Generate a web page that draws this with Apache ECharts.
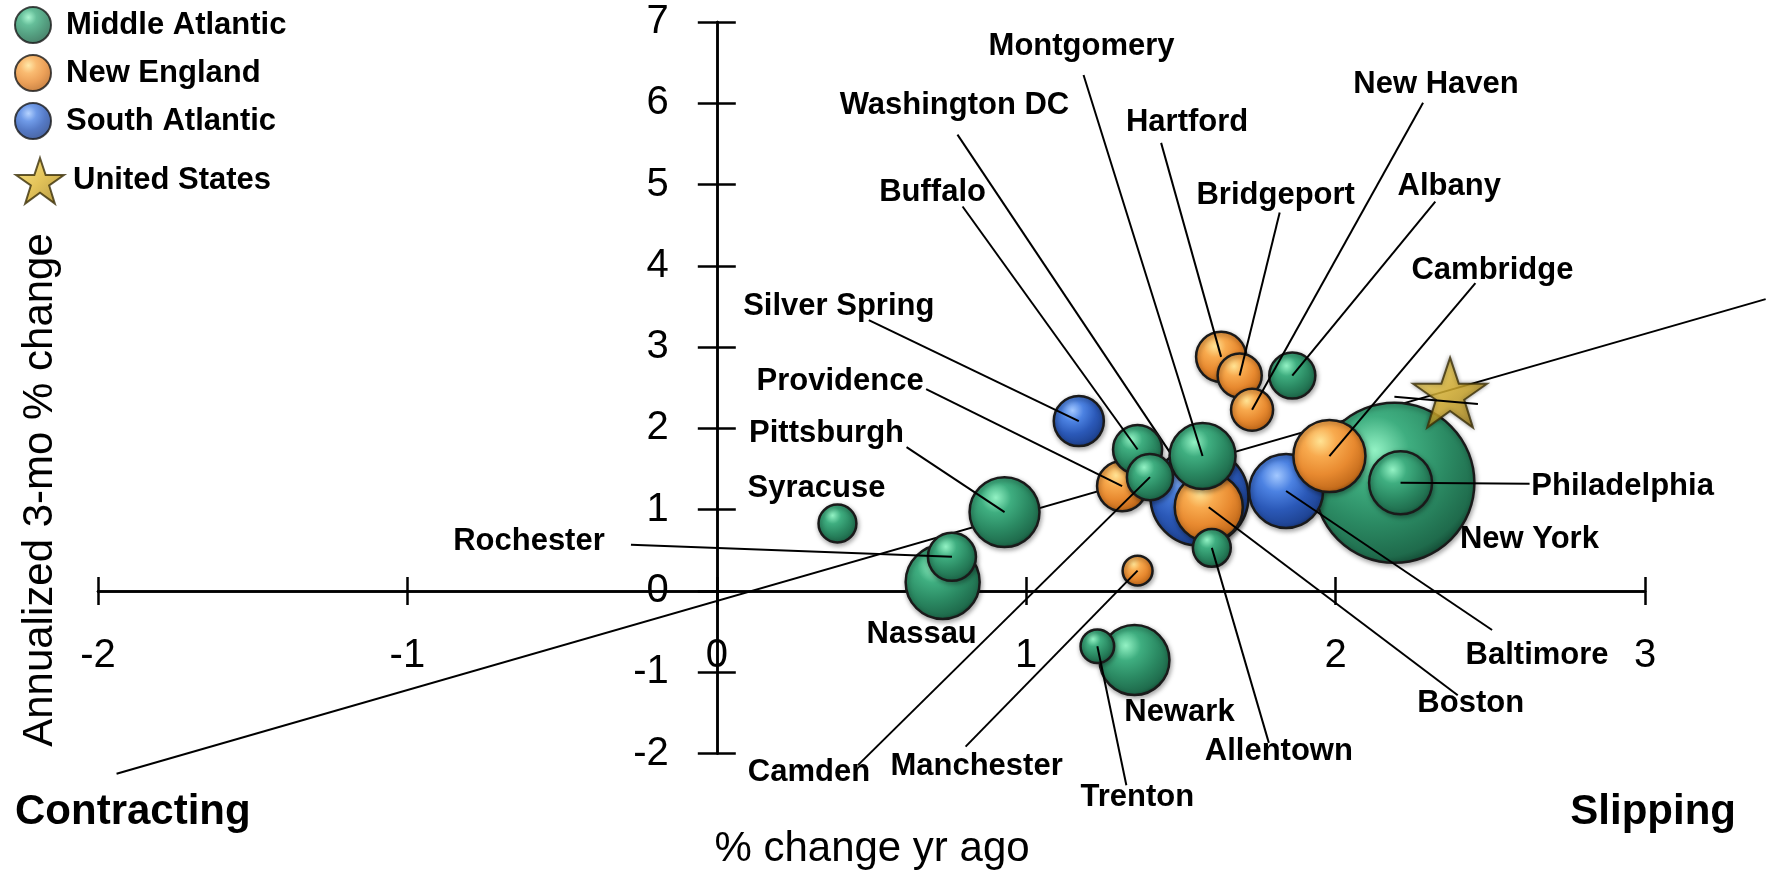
<!DOCTYPE html>
<html>
<head>
<meta charset="utf-8">
<title>Metro employment bubble chart</title>
<script src="https://cdn.jsdelivr.net/npm/echarts@6/dist/echarts.min.js"></script>
<style>
  html, body { margin: 0; padding: 0; background: #fff; }
  #main { width: 1768px; height: 873px; }
</style>
</head>
<body>
<div id="main"></div>
<script>
// values
var cities = ['New York', 'Washington DC', 'Nassau', 'Baltimore', 'Cambridge', 'Pittsburgh', 'Newark',
  'Boston', 'Montgomery', 'Philadelphia', 'Silver Spring', 'Hartford', 'Providence', 'Buffalo',
  'Rochester', 'Camden', 'Albany', 'Bridgeport', 'New Haven', 'Allentown', 'Syracuse', 'Trenton', 'Manchester'];
var regions = ['Middle Atlantic', 'South Atlantic', 'Middle Atlantic', 'South Atlantic', 'New England',
  'Middle Atlantic', 'Middle Atlantic', 'New England', 'Middle Atlantic', 'Middle Atlantic', 'South Atlantic',
  'New England', 'New England', 'Middle Atlantic', 'Middle Atlantic', 'Middle Atlantic', 'Middle Atlantic',
  'New England', 'New England', 'Middle Atlantic', 'Middle Atlantic', 'Middle Atlantic', 'New England'];
var yrAgo = [2.19, 1.56, 0.73, 1.84, 1.98, 0.93, 1.35, 1.59, 1.57, 2.21, 1.17, 1.63, 1.31, 1.36,
  0.76, 1.40, 1.86, 1.69, 1.73, 1.60, 0.39, 1.23, 1.36];
var annualized = [1.33, 1.16, 0.11, 1.23, 1.66, 0.97, -0.85, 1.03, 1.66, 1.33, 2.09, 2.88, 1.29, 1.74,
  0.42, 1.40, 2.65, 2.65, 2.23, 0.53, 0.83, -0.68, 0.25];
var sizes = [100, 37.5, 21.4, 21.4, 20.3, 19.1, 19.1, 18.1, 17.0, 15.5, 9.8, 9.8, 9.8, 9.4,
  9.0, 8.3, 8.3, 7.6, 6.9, 5.6, 5.6, 4.4, 3.5];
var usPoint = [2.37, 2.44];
var usLine = [[-1.94, -2.25, 3.39, 3.59]];
var usTick = [[2.19, 2.39, 2.46, 2.30]];
var xRange = [-2, 3];
var yRange = [-2, 7];
var legendNames = ['Middle Atlantic', 'New England', 'South Atlantic', 'United States'];

// label placement, pixel offsets from the bubble centre
var labelAt = {
  'New York': [135, 57], 'Washington DC': [-245, -391], 'Nassau': [-21, 52], 'Baltimore': [251, 164],
  'Cambridge': [163, -186], 'Pittsburgh': [-178, -79], 'Newark': [45, 52], 'Boston': [262, 196],
  'Montgomery': [-121, -410], 'Philadelphia': [222, 4], 'Silver Spring': [-240, -115],
  'Hartford': [-34, -234], 'Providence': [-282, -105], 'Buffalo': [-205, -257], 'Rochester': [-423, -15],
  'Camden': [-341, 295], 'Albany': [157, -189], 'Bridgeport': [36, -180], 'New Haven': [184, -325],
  'Allentown': [67, 204], 'Syracuse': [-21, -35], 'Trenton': [40, 151], 'Manchester': [-161, 196]
};
var leaderTo = {
  'Washington DC': [-242, -362], 'Baltimore': [206, 139], 'Cambridge': [146, -173], 'Pittsburgh': [-98, -65],
  'Boston': [249, 188], 'Montgomery': [-119, -381], 'Philadelphia': [129, 1], 'Silver Spring': [-210, -101],
  'Hartford': [-60, -214], 'Providence': [-196, -97], 'Buffalo': [-175, -243], 'Rochester': [-321, -12],
  'Camden': [-292, 288], 'Albany': [143, -174], 'Bridgeport': [40, -163], 'New Haven': [171, -307],
  'Allentown': [57, 195], 'Trenton': [29, 139], 'Manchester': [-172, 176]
};

var FONT = '"Liberation Sans", Arial, sans-serif';
var W = 1768, H = 873;
var grid = {left: 98, right: 123, top: 22, bottom: 119.5};
var gridW = W - grid.left - grid.right, gridH = H - grid.top - grid.bottom;
// pixel position of the zero lines, the axes cross there
var zeroX = grid.left + (0 - xRange[0]) / (xRange[1] - xRange[0]) * gridW;
var zeroY = grid.top + (yRange[1] - 0) / (yRange[1] - yRange[0]) * gridH;

var palette = {
  'Middle Atlantic': ['#93f2c4', '#3fae80', '#2b8a63', '#1f6b4c', '#12432f'],
  'New England': ['#ffe394', '#f8aa4e', '#e88a30', '#c56c1c', '#83460c'],
  'South Atlantic': ['#a3c8ff', '#4c82e2', '#2b59b8', '#1f4494', '#132c63']
};
function sphere(c) {
  return new echarts.graphic.RadialGradient(0.38, 0.3, 0.75, [
    {offset: 0, color: c[0]}, {offset: 0.28, color: c[1]}, {offset: 0.6, color: c[2]},
    {offset: 0.88, color: c[3]}, {offset: 1, color: c[4]}
  ]);
}
function bubbleRadius(v) { return 8 * Math.sqrt(v); }

var starPath = 'path://M50,0 L61.8,35.4 L100,35.4 L69.1,57.3 L80.9,95.1 L50,72.4 L19.1,95.1 L30.9,57.3 L0,35.4 L38.2,35.4 Z';
var gold = new echarts.graphic.LinearGradient(0, 0, 1, 1, [
  {offset: 0, color: '#f8e070'}, {offset: 0.5, color: '#dcb430'}, {offset: 1, color: '#9c7a14'}
]);

// big bubbles first, small ones on top
var order = cities.map(function (c, i) { return i; });
order.sort(function (a, b) { return sizes[b] - sizes[a]; });
var bubbleData = order.map(function (i) { return [yrAgo[i], annualized[i], sizes[i], i]; });

function renderCity(params, api) {
  var i = api.value(3);
  var k = params.dataIndex;
  var name = cities[i];
  var c = api.coord([api.value(0), api.value(1)]);
  var r = bubbleRadius(api.value(2));
  var kids = [{
    type: 'circle', z2: 2 * k,
    shape: {cx: c[0], cy: c[1], r: r},
    style: {fill: sphere(palette[regions[i]]), stroke: '#1a1a1a', lineWidth: 2.5,
      shadowBlur: 5, shadowColor: 'rgba(0,0,0,0.35)', shadowOffsetX: 1, shadowOffsetY: 2}
  }];
  var ln = leaderTo[name];
  if (ln) {
    kids.push({type: 'line', z2: 2 * k + 1,
      shape: {x1: c[0], y1: c[1], x2: c[0] + ln[0], y2: c[1] + ln[1]},
      style: {stroke: '#000', lineWidth: 2}});
  }
  var lb = labelAt[name];
  kids.push({type: 'text', z2: 1000, x: c[0] + lb[0], y: c[1] + lb[1],
    style: {text: name, font: 'bold 31px ' + FONT, fill: '#000', align: 'center', verticalAlign: 'middle'}});
  return {type: 'group', children: kids};
}

function renderSegment(params, api) {
  var a = api.coord([api.value(0), api.value(1)]);
  var b = api.coord([api.value(2), api.value(3)]);
  return {type: 'line', shape: {x1: a[0], y1: a[1], x2: b[0], y2: b[1]},
    style: {stroke: '#000', lineWidth: 2}};
}

function regionSeries(name) {
  return {type: 'scatter', name: name, data: [], symbol: 'circle',
    itemStyle: {color: sphere(palette[name]), borderColor: '#1a1a1a', borderWidth: 2}};
}

var axisLineStyle = {color: '#000', width: 2.5};
function xAxisPart(pos, offset, labels) {
  return {
    type: 'value', position: pos, offset: offset, min: xRange[0], max: xRange[1], interval: 1,
    axisLine: {show: true, onZero: false, lineStyle: axisLineStyle},
    axisTick: {show: true, length: 14, lineStyle: axisLineStyle},
    axisLabel: {show: labels, margin: 45, fontSize: 40, color: '#000', fontFamily: FONT},
    splitLine: {show: false}
  };
}
function yAxisPart(pos, offset, labels) {
  return {
    type: 'value', position: pos, offset: offset, min: yRange[0], max: yRange[1], interval: 1,
    axisLine: {show: true, onZero: false, lineStyle: axisLineStyle},
    axisTick: {show: true, length: 19, lineStyle: axisLineStyle},
    axisLabel: {show: labels, margin: 48, fontSize: 40, color: '#000', fontFamily: FONT},
    splitLine: {show: false}
  };
}

var legendText = {fontSize: 31, fontWeight: 'bold', color: '#000', fontFamily: FONT};

var myChart = echarts.init(document.getElementById('main'));
var option = {
  animation: false,
  backgroundColor: '#fff',
  grid: grid,
  legend: [{
    orient: 'vertical', left: 9, top: 1, itemWidth: 36, itemHeight: 36, itemGap: 10,
    selectedMode: false,
    data: legendNames.slice(0, 3).map(function (n) { return {name: n, icon: 'circle'}; }),
    textStyle: Object.assign({padding: [0, 0, 0, 10]}, legendText)
  }, {
    orient: 'vertical', left: 10, top: 152, itemWidth: 48, itemHeight: 46,
    selectedMode: false,
    data: [{name: legendNames[3], icon: starPath}],
    textStyle: Object.assign({padding: [0, 0, 0, 4]}, legendText)
  }],
  xAxis: [
    xAxisPart('bottom', -(H - grid.bottom - zeroY), true),
    xAxisPart('top', -(zeroY - grid.top), false)
  ],
  yAxis: [
    yAxisPart('left', -(zeroX - grid.left), true),
    yAxisPart('right', -(W - grid.right - zeroX), false)
  ],
  graphic: [
    {type: 'text', x: 40, y: 490, rotation: Math.PI / 2,
      style: {text: 'Annualized 3-mo % change', font: '42px ' + FONT, fill: '#000', align: 'center', verticalAlign: 'middle'}},
    {type: 'text', x: 872, y: 849,
      style: {text: '% change yr ago', font: '42px ' + FONT, fill: '#000', align: 'center', verticalAlign: 'middle'}},
    {type: 'text', x: 15, y: 812,
      style: {text: 'Contracting', font: 'bold 42px ' + FONT, fill: '#000', align: 'left', verticalAlign: 'middle'}},
    {type: 'text', x: 1736, y: 812,
      style: {text: 'Slipping', font: 'bold 42px ' + FONT, fill: '#000', align: 'right', verticalAlign: 'middle'}}
  ],
  series: [
    {type: 'custom', name: 'us line', data: usLine, renderItem: renderSegment, clip: false, silent: true, z: 1},
    {type: 'custom', name: 'cities', data: bubbleData, renderItem: renderCity, clip: false, silent: true, z: 2},
    regionSeries('Middle Atlantic'),
    regionSeries('New England'),
    regionSeries('South Atlantic'),
    {type: 'scatter', name: 'United States', data: [usPoint], symbol: starPath, symbolSize: [74, 70], z: 3,
      itemStyle: {color: gold, borderColor: '#3a2e08', borderWidth: 2, shadowBlur: 4, shadowColor: 'rgba(0,0,0,0.4)'}},
    {type: 'custom', name: 'us tick', data: usTick, renderItem: renderSegment, clip: false, silent: true, z: 4}
  ]
};
myChart.setOption(option);
</script>
</body>
</html>
